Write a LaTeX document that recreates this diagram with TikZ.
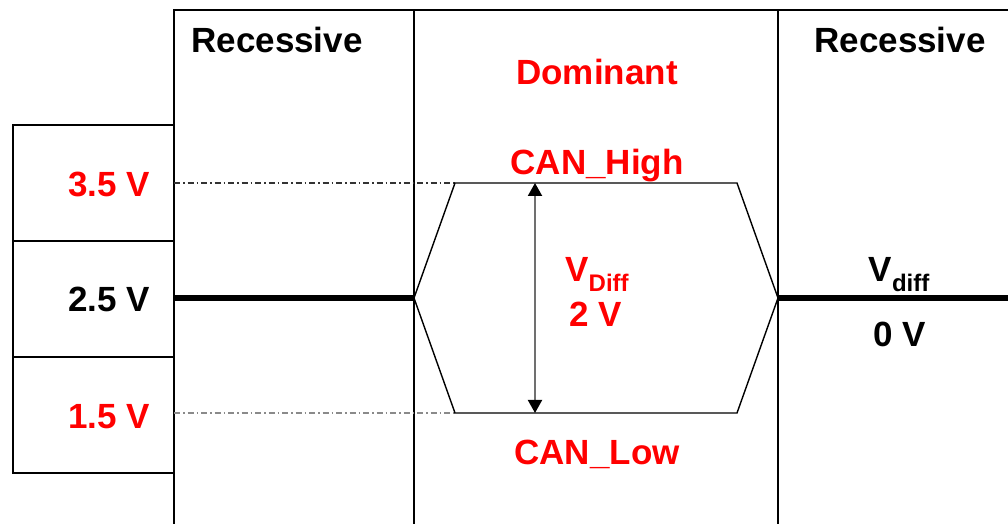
\documentclass[tikz,border=0pt]{standalone}
\usepackage{fontspec}
\setmainfont{Liberation Sans}
\usetikzlibrary{arrows.meta}
\definecolor{canred}{HTML}{FF0000}
\definecolor{dgray}{HTML}{333333}
\definecolor{lgray}{HTML}{8A8A8A}
\definecolor{agray}{HTML}{707070}
\begin{document}
\begin{tikzpicture}[x=1pt,y=1pt,
  thinline/.style={line width=1.3pt,black},
  busline/.style={line width=6pt,black},
  levelline/.style={line width=1.1pt,dash pattern=on 6pt off 3pt on 1.5pt off 3pt},
  lbl/.style={font=\fontsize{35}{40}\selectfont\bfseries,inner sep=0pt,anchor=base},
  redlbl/.style={lbl,text=canred},
  lvl/.style={lbl,anchor=base east}]
\useasboundingbox (0,0) rectangle (1008,524);
% coordinates
\coordinate (tl) at (174,514);
\coordinate (tr) at (1008,514);
\coordinate (b1) at (174,0);
\coordinate (t2) at (414,514);
\coordinate (b2) at (414,0);
\coordinate (t3) at (778,514);
\coordinate (b3) at (778,0);
\coordinate (hl) at (414,226);
\coordinate (hr) at (778,226);
\coordinate (hul) at (455,341);
\coordinate (hur) at (737,341);
\coordinate (hll) at (455,111);
\coordinate (hlr) at (737,111);
\coordinate (bl) at (174,226);
\coordinate (br) at (1008,226);
\coordinate (d1) at (174,341);
\coordinate (d2) at (174,111);
\coordinate (at) at (535,341);
\coordinate (ab) at (535,111);
% frame
\draw[thinline] (b1) -- (tl) -- (tr);
\draw[thinline] (t2) -- (b2);
\draw[thinline] (t3) -- (b3);
\draw[thinline] (174,399) -- (13,399) -- (13,51) -- (174,51);
\draw[thinline] (13,283) -- (174,283);
\draw[thinline] (13,167) -- (174,167);
% level lines
\draw[levelline,dgray] (d1) -- (hul);
\draw[levelline,lgray] (d2) -- (hll);
% bus
\draw[busline] (bl) -- (hl);
\draw[busline] (hr) -- (br);
\draw[line width=1.4pt,line join=miter] (hl) -- (hul) -- (hur) -- (hr) -- (hlr) -- (hll) -- cycle;
% arrow
\draw[agray,line width=2pt,{Triangle[length=13pt,width=14pt,color=black]}-{Triangle[length=13pt,width=14pt,color=black]}] (at) -- (ab);
% texts
\node[lbl] (rec1) at (277,471) {Recessive};
\node[lbl] (rec2) at (900,471) {Recessive};
\node[redlbl] (dom) at (597,439) {Dominant};
\node[redlbl] (hi) at (597,349) {CAN\_High};
\node[redlbl] (lo) at (597,59) {CAN\_Low};
\node[lvl,text=canred] (v35) at (150,327) {3.5 V};
\node[lvl] (v25) at (150,212) {2.5 V};
\node[lvl,text=canred] (v15) at (150,95) {1.5 V};
\node[redlbl] (vd) at (597,242) {V{\fontsize{24}{24}\selectfont\raisebox{-10pt}{Diff}}};
\node[redlbl] (v2) at (596,197) {2 V};
\node[lbl] (vd0) at (899,242) {V{\fontsize{24}{24}\selectfont\raisebox{-10pt}{diff}}};
\node[lbl] (v0) at (900,177) {0 V};
\end{tikzpicture}
\end{document}
